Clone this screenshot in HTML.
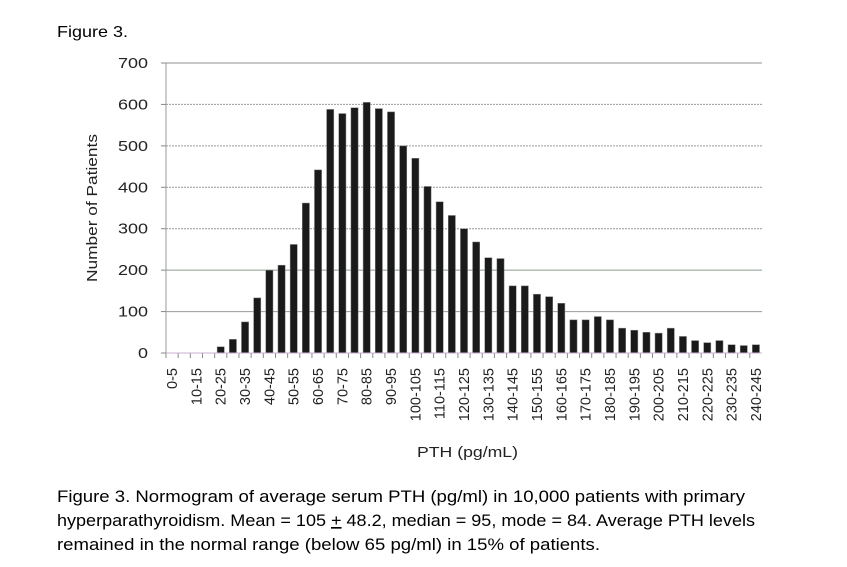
<!DOCTYPE html>
<html><head><meta charset="utf-8"><style>
body{margin:0;background:#fff;width:847px;height:562px;overflow:hidden;font-family:"Liberation Sans",sans-serif}
</style></head><body>
<svg width="847" height="562" xmlns="http://www.w3.org/2000/svg" font-family="Liberation Sans, sans-serif">
<text x="57" y="37" font-size="16" textLength="71" lengthAdjust="spacingAndGlyphs">Figure 3.</text>
<text transform="translate(97,208) rotate(-90)" text-anchor="middle" font-size="15" fill="#222" textLength="148" lengthAdjust="spacingAndGlyphs">Number of Patients</text>
<text x="417" y="457" font-size="15" fill="#222" textLength="101" lengthAdjust="spacingAndGlyphs">PTH (pg/mL)</text>
<text x="57" y="502" font-size="16.5" textLength="688" lengthAdjust="spacingAndGlyphs">Figure 3.  Normogram of average serum PTH (pg/ml) in 10,000 patients with primary</text>
<text x="57" y="526" font-size="16.5" textLength="698" lengthAdjust="spacingAndGlyphs">hyperparathyroidism. Mean = 105 <tspan text-decoration="underline">+</tspan> 48.2, median = 95, mode = 84.  Average PTH levels</text>
<text x="57" y="550" font-size="16.5" textLength="543" lengthAdjust="spacingAndGlyphs">remained in the normal range (below 65 pg/ml) in 15% of patients.</text>
</svg>
<script>
const ns="http://www.w3.org/2000/svg",svg=document.querySelector('svg');
function el(t,a,txt){const e=document.createElementNS(ns,t);for(const k in a)e.setAttribute(k,a[k]);if(txt!=null)e.textContent=txt;svg.appendChild(e);return e;}
const L=166,R=762,Y0=353,Y7=63,sc=(Y0-Y7)/700;
for(let v=0;v<=700;v+=100){const y=Y0-v*sc;
 el('line',{x1:L,x2:R,y1:y,y2:y,stroke:v==700?'#c8c8c8':(v==200?'#8a9a8a':'#999'),'stroke-width':v==700?2:1,'stroke-dasharray':(v>=300&&v<700)?'2,1':''});
 el('line',{x1:L-5,x2:L,y1:y,y2:y,stroke:'#888'});
 el('text',{x:L-18,y:y+5,'text-anchor':'end','font-size':15,fill:'#222',textLength:(v<100?10:30),lengthAdjust:'spacingAndGlyphs'},v);}
el('line',{x1:L,x2:L,y1:Y7,y2:Y0,stroke:'#999'});
const d=[0,0,0,0,15,33,75,133,200,212,262,362,442,588,578,592,605,590,582,500,470,402,365,332,300,268,230,228,162,162,142,136,120,80,80,88,80,60,55,50,48,60,40,30,25,30,20,18,20];
const w=(R-L)/49;
for(let i=0;i<49;i++){const cx=L+w*(i+0.5),h=d[i]*sc;
 if(h>0)el('rect',{x:cx-3.6,y:Y0-h,width:7.2,height:h,fill:'#1a1a1a',stroke:'#888','stroke-width':0.5});
 el('line',{x1:L+w*i,x2:L+w*i,y1:Y0,y2:Y0+5,stroke:'#888'});
 if(i%2==0){const a=i*5;el('text',{transform:`translate(${cx+5},368) rotate(-90)`,'text-anchor':'end','font-size':14.5,fill:'#222'},a+'-'+(a+5));}}
el('line',{x1:L,x2:R,y1:Y0,y2:Y0,stroke:'#c9b0d0'});
</script>
</body></html>
